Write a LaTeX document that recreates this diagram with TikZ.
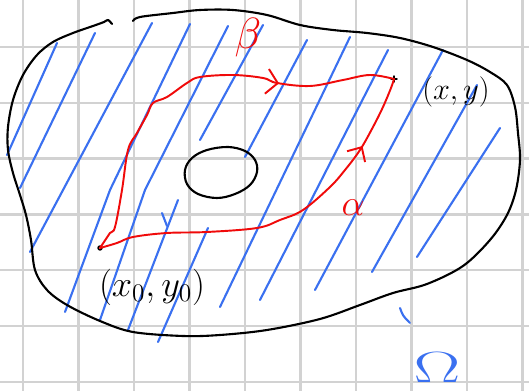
\documentclass[tikz,border=0pt]{standalone}
\usepackage{tikz}
\usetikzlibrary{arrows.meta,decorations.markings}
\definecolor{penblue}{RGB}{58,112,240}
\definecolor{penred}{RGB}{240,10,10}
\definecolor{gridgray}{RGB}{210,210,210}

\begin{document}
\begin{tikzpicture}[x=0.02cm, y=-0.02cm,
  outline/.style={black, line width=1.2pt, line cap=round, line join=round},
  hatch/.style={penblue, line width=1.2pt, line cap=round},
  curve/.style={penred, line width=1.1pt, line cap=round, line join=round},
  label/.style={inner sep=0pt}]

  \useasboundingbox (0,0) rectangle (529,391);
  \fill[white] (0,0) rectangle (529,391);

  % graph paper
  \foreach \gx in {23,78.5,...,530}
    \draw[gridgray, line width=1.3pt] (\gx,0) -- (\gx,391);
  \foreach \gy in {47,102.8,...,392}
    \draw[gridgray, line width=1.3pt] (0,\gy) -- (529,\gy);

  % hatching of the region
  \foreach \ax/\ay/\bx/\by in {7/155/57/43, 20/188/95/33, 30/252/152/23,
      200/140/263/25, 245/157/307/40, 220/307/350/37,
      260/300/388/50, 315/290/443/50, 372/272/477/85,
      417/257/500/128, 128/330/178/200, 158/342/208/228}
    \draw[hatch] (\ax,\ay) -- (\bx,\by);
  \draw[hatch] (65,312) -- (110,190) -- (190,24);
  \draw[hatch] (100,320) -- (145,190) -- (228,26);
  \draw[hatch] (162,213) -- (167,226);
  \draw[hatch] (400,308) .. controls (403,316) .. (410,323);

  % boundary and hole
  \draw[outline] plot[smooth, tension=0.55] coordinates {
    (133,21) (140,17) (173,13) (200,10) (233,10) (267,15) (300,25) (333,30)
    (367,33) (400,38) (433,47) (467,60) (490,72) (507,85) (515,107) (518,133)
    (520,160) (516,190) (507,215) (490,240) (463,266) (427,284) (393,293)
    (360,305) (320,319) (267,330) (220,335) (183,336) (133,332) (100,321)
    (67,305) (47,290) (35,270) (31,240) (26,215) (20,195) (13,173) (8,150)
    (8,127) (13,100) (23,75) (37,55) (53,42) (73,33) (93,26) (104,22)
    (108,20) (112,24)};
  \draw[outline] plot[smooth cycle, tension=0.6] coordinates {
    (228,147) (245,151) (255,160) (257,172) (250,185) (235,194) (217,198)
    (198,194) (187,184) (185,170) (192,158) (207,150)};

  % end points
  \coordinate (start) at (100,248);
  \coordinate (finish) at (394,79);
  \draw[outline, line width=0.8pt] (start) circle [radius=2];
  \draw[outline, line width=0.8pt] ([xshift=-0.06cm]finish) -- ([xshift=0.06cm]finish)
    ([yshift=-0.06cm]finish) -- ([yshift=0.06cm]finish);

  % path beta (upper)
  \draw[curve, postaction=decorate, decoration={markings,
      mark=at position 0.715 with {\arrow{Straight Barb[length=0.22cm, width=0.5cm]}}}]
    plot[smooth, tension=0.6] coordinates {(start) (110,233) (115,227)
      (122,190) (128,150) (137,133) (147,115) (153,103) (167,97) (187,83)
      (200,77) (233,75) (263,78) (277,83) (310,86) (343,80) (370,75)
      (finish)};

  % path alpha (lower)
  \draw[curve, postaction=decorate, decoration={markings,
      mark=at position 0.80 with {\arrow{Straight Barb[length=0.22cm, width=0.42cm]}}}]
    plot[smooth, tension=0.6] coordinates {(start) (117,243) (133,237)
      (167,233) (207,232) (257,228) (280,220) (303,210) (330,187) (345,170)
      (360,150) (373,127) (383,107) (391,88) (finish)};

  % labels
  \node[label, penred, font=\fontsize{24}{24}\selectfont] (betalabel) at (248,38) {$\beta$};
  \node[label, penred, font=\fontsize{20}{20}\selectfont] (alphalabel) at (353,208) {$\alpha$};
  \node[label, font=\LARGE] (endlabel) at (456,92) {$(x,y)$};
  \node[label, font=\huge] (startlabel) at (152,287) {$(x_0,y_0)$};
  \node[label, penblue, font=\fontsize{40}{40}\selectfont] (omegalabel) at (437,368)
    {\scalebox{1.6}[1]{$\Omega$}};
\end{tikzpicture}
\end{document}
